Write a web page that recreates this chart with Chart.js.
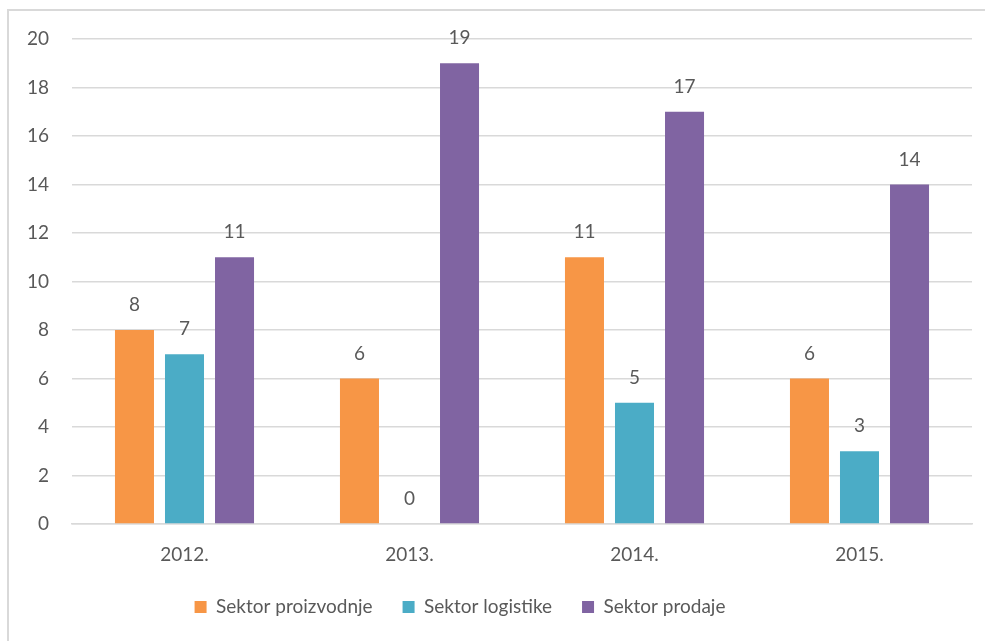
<!DOCTYPE html>
<html>
<head>
<meta charset="utf-8">
<script src="https://cdn.jsdelivr.net/npm/chart.js@4.4.1/dist/chart.umd.min.js"></script>
<style>
    html, body { margin: 0; padding: 0; background: #fff; }
    #wrap { position: relative; width: 985px; height: 641px; }
</style>
</head>
<body>
<div id="wrap"><canvas id="chart"></canvas></div>
<script>
// ==========================================
// Data
// ==========================================
const years = ['2012.', '2013.', '2014.', '2015.'];
const proizvodnja = [8, 6, 11, 6];
const logistika = [7, 0, 5, 3];
const prodaja = [11, 19, 17, 14];
const seriesNames = ['Sektor proizvodnje', 'Sektor logistike', 'Sektor prodaje'];
const yTicks = [0, 2, 4, 6, 8, 10, 12, 14, 16, 18, 20];

const TEXT = '#595959';
const GRID = '#d9d9d9';
const FONT = { family: 'Lato', size: 19 };

// ==========================================
// Plugins
// ==========================================
const frame = {
    id: 'frame',
    beforeDraw(chart) {
        const ctx = chart.ctx;
        ctx.save();
        ctx.fillStyle = '#fff';
        ctx.fillRect(0, 0, chart.width, chart.height);
        ctx.strokeStyle = GRID;
        ctx.lineWidth = 2;
        ctx.strokeRect(8, 10, chart.width + 20, chart.height + 20);
        ctx.restore();
    }
};

const valueLabels = {
    id: 'valueLabels',
    afterDatasetsDraw(chart) {
        const ctx = chart.ctx;
        ctx.save();
        ctx.font = FONT.size + 'px ' + FONT.family;
        ctx.fillStyle = TEXT;
        ctx.textAlign = 'center';
        ctx.textBaseline = 'middle';
        chart.data.datasets.forEach((ds, i) => {
            chart.getDatasetMeta(i).data.forEach((bar, j) => {
                ctx.fillText(String(ds.data[j]), bar.x, bar.y - 25);
            });
        });
        ctx.restore();
    }
};

// legend sits a bit left of centre in the original
const legendShift = {
    id: 'legendShift',
    afterLayout(chart) {
        const lg = chart.legend;
        if (!lg) return;
        lg.left -= 26;
        lg.right -= 26;
    }
};

// ==========================================
// Chart
// ==========================================
new Chart(document.getElementById('chart'), {
    type: 'bar',
    data: {
        labels: years,
        datasets: [
            { label: seriesNames[0], data: proizvodnja, backgroundColor: '#F79646' },
            { label: seriesNames[1], data: logistika, backgroundColor: '#4BACC6' },
            { label: seriesNames[2], data: prodaja, backgroundColor: '#8064A2' }
        ]
    },
    options: {
        responsive: true,
        maintainAspectRatio: false,
        animation: false,
        datasets: {
            bar: { categoryPercentage: 0.667, barPercentage: 0.78 }
        },
        layout: {
            padding: { top: 39, right: 13, bottom: 14.5, left: 0 }
        },
        plugins: {
            legend: {
                position: 'bottom',
                labels: {
                    boxWidth: 12,
                    boxHeight: 12,
                    padding: 30,
                    color: TEXT,
                    font: FONT
                }
            },
            tooltip: { enabled: false }
        },
        scales: {
            x: {
                grid: { display: false },
                border: { color: GRID, width: 1.5 },
                ticks: { color: TEXT, font: FONT, padding: 11 },
                afterFit(scale) { scale.height = 43.5; }
            },
            y: {
                min: 0,
                max: 20,
                afterBuildTicks(scale) {
                    scale.ticks = yTicks.map(v => ({ value: v }));
                },
                grid: { color: GRID, lineWidth: 1.5, drawTicks: false },
                border: { display: false },
                ticks: { color: TEXT, font: FONT, padding: 23 },
                afterFit(scale) { scale.width = 72; }
            }
        }
    },
    plugins: [frame, valueLabels, legendShift]
});
</script>
</body>
</html>
